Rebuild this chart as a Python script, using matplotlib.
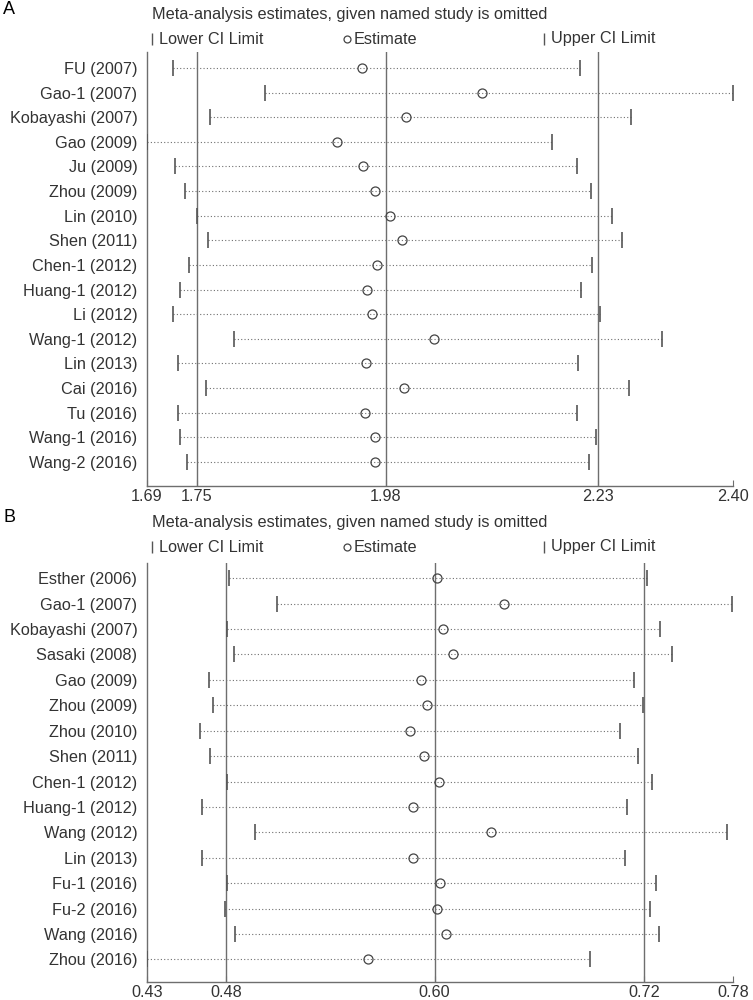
import matplotlib
matplotlib.use("Agg")
import matplotlib.pyplot as plt

plt.rcParams["font.family"] = ["Liberation Sans", "DejaVu Sans"]

# panel A: estimates with each study left out
studies_a = ["FU (2007)", "Gao-1 (2007)", "Kobayashi (2007)", "Gao (2009)", "Ju (2009)",
             "Zhou (2009)", "Lin (2010)", "Shen (2011)", "Chen-1 (2012)", "Huang-1 (2012)",
             "Li (2012)", "Wang-1 (2012)", "Lin (2013)", "Cai (2016)", "Tu (2016)",
             "Wang-1 (2016)", "Wang-2 (2016)"]
lower_a = [1.717, 1.829, 1.762, 1.686, 1.720, 1.732, 1.747, 1.760, 1.737, 1.726,
           1.717, 1.792, 1.724, 1.757, 1.723, 1.726, 1.735]
est_a = [1.947, 2.092, 2.000, 1.916, 1.948, 1.962, 1.981, 1.995, 1.965, 1.953,
         1.959, 2.034, 1.951, 1.997, 1.950, 1.962, 1.962]
upper_a = [2.211, 2.396, 2.272, 2.177, 2.207, 2.224, 2.249, 2.261, 2.225, 2.212,
           2.235, 2.310, 2.208, 2.270, 2.207, 2.230, 2.222]
refs_a = [1.746, 1.975, 2.233]
ticks_a = [1.686, 1.746, 1.975, 2.233, 2.396]
ticklabels_a = ["1.69", "1.75", "1.98", "2.23", "2.40"]

# panel B
studies_b = ["Esther (2006)", "Gao-1 (2007)", "Kobayashi (2007)", "Sasaki (2008)", "Gao (2009)",
             "Zhou (2009)", "Zhou (2010)", "Shen (2011)", "Chen-1 (2012)", "Huang-1 (2012)",
             "Wang (2012)", "Lin (2013)", "Fu-1 (2016)", "Fu-2 (2016)", "Wang (2016)",
             "Zhou (2016)"]
lower_b = [0.4801, 0.5083, 0.4789, 0.4834, 0.4687, 0.4708, 0.4634, 0.4693, 0.4789, 0.4644,
           0.4958, 0.4644, 0.4789, 0.4781, 0.4840, 0.4320]
est_b = [0.6024, 0.6418, 0.6061, 0.6120, 0.5932, 0.5969, 0.5869, 0.5946, 0.6040, 0.5887,
         0.6344, 0.5883, 0.6044, 0.6024, 0.6079, 0.5618]
upper_b = [0.7259, 0.7761, 0.7338, 0.7408, 0.7181, 0.7238, 0.7101, 0.7205, 0.7291, 0.7140,
           0.7728, 0.7128, 0.7312, 0.7275, 0.7328, 0.6924]
refs_b = [0.4785, 0.6011, 0.7242]
ticks_b = [0.432, 0.4785, 0.6011, 0.7242, 0.7766]
ticklabels_b = ["0.43", "0.48", "0.60", "0.72", "0.78"]

TXT = "#333333"
LINE = "#6e6e6e"
FS = 11.7


def draw_panel(fig, rect, letter, top_y, studies, lower, est, upper, refs, ticks, ticklabels, ylim):
    ax = fig.add_axes(rect)
    ys = list(range(1, len(studies) + 1))

    ax.hlines(ys, lower, upper, colors="#707070", linestyles=(0, (1, 2)), lw=0.8, zorder=2)
    ax.plot(lower, ys, ls="none", marker="|", ms=12, mew=1.2, color="#555555", zorder=3)
    ax.plot(upper, ys, ls="none", marker="|", ms=12, mew=1.2, color="#555555", zorder=3)
    ax.plot(est, ys, ls="none", marker="o", ms=6.5, mfc="none", mec="#444444", mew=0.9, zorder=4)
    for r in refs:
        ax.axvline(r, color=LINE, lw=1.0, zorder=1)

    ax.set_xlim(ticks[0], ticks[-1])
    ax.set_ylim(ylim)
    ax.set_yticks(ys)
    ax.set_yticklabels(studies, fontsize=FS, color=TXT)
    ax.set_xticks(ticks)
    ax.set_xticklabels(ticklabels, fontsize=FS, color=TXT)
    ax.tick_params(axis="y", length=0, pad=7)
    ax.tick_params(axis="x", direction="in", length=4, color=LINE, pad=2)
    for s in ["top", "right"]:
        ax.spines[s].set_visible(False)
    for s in ["left", "bottom"]:
        ax.spines[s].set_color(LINE)
        ax.spines[s].set_linewidth(1.0)

    # panel letter, title and legend row
    fig.text(0.004, top_y + 0.005, letter, fontsize=13, color="black", va="center")
    fig.text(152 / 753, top_y - 0.001, "Meta-analysis estimates, given named study is omitted",
             fontsize=FS, color=TXT, va="center")
    leg_y = top_y - 0.025
    ax.plot([152 / 753], [leg_y], transform=fig.transFigure, marker="|", ms=8, mew=1.0,
            color="#555555", clip_on=False)
    fig.text(159 / 753, leg_y, "Lower CI Limit", fontsize=FS, color=TXT, va="center")
    ax.plot([347 / 753], [leg_y], transform=fig.transFigure, marker="o", ms=5, mfc="none",
            mec="#444444", mew=0.9, clip_on=False)
    fig.text(354 / 753, leg_y, "Estimate", fontsize=FS, color=TXT, va="center")
    ax.plot([544 / 753], [leg_y], transform=fig.transFigure, marker="|", ms=8, mew=1.0,
            color="#555555", clip_on=False)
    fig.text(551 / 753, leg_y, "Upper CI Limit", fontsize=FS, color=TXT, va="center")
    return ax


fig = plt.figure(figsize=(7.53, 10), dpi=100)
fig.patch.set_facecolor("white")

draw_panel(fig, [147 / 753, 0.514, 586 / 753, 0.434], "A", 0.986,
           studies_a, lower_a, est_a, upper_a, refs_a, ticks_a, ticklabels_a, (17.98, 0.35))
draw_panel(fig, [147 / 753, 0.018, 586 / 753, 0.419], "B", 0.478,
           studies_b, lower_b, est_b, upper_b, refs_b, ticks_b, ticklabels_b, (16.89, 0.40))

fig.savefig("out.png", dpi=100, facecolor="white")
